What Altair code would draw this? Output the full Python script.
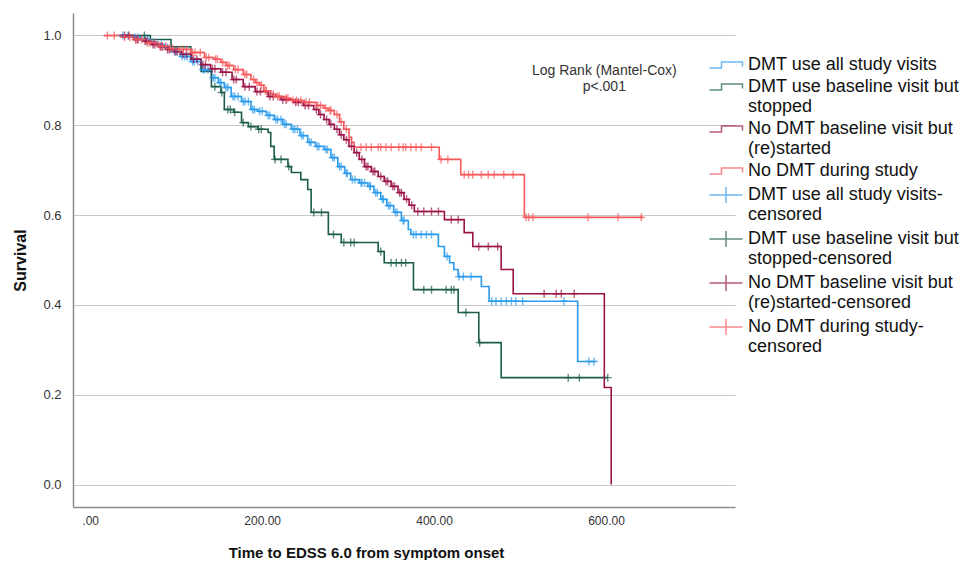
import altair as alt
import pandas as pd

SERIES = ["DMT use all study visits", "DMT use baseline visit but stopped",
          "No DMT baseline visit but (re)started", "No DMT during study"]
COLORS = ["#2b9bed", "#1b5c4c", "#9b1347", "#f8575a"]

LEGEND_KEYS = ["DMT use all study visits",
               "DMT use baseline visit but|stopped",
               "No DMT baseline visit but|(re)started",
               "No DMT during study",
               "DMT use all study visits-|censored",
               "DMT use baseline visit but|stopped-censored",
               "No DMT baseline visit but|(re)started-censored",
               "No DMT during study-|censored"]

X_TICKS = [0, 200, 400, 600]
Y_TICKS = [0.0, 0.2, 0.4, 0.6, 0.8, 1.0]

# ---- Kaplan-Meier step curves (time, survival) ----
blue_t = [33, 48, 59, 70, 79, 87, 94, 105, 117, 129, 141, 149, 156, 164, 176, 187, 195, 205, 214, 224,
          234, 244, 253, 262, 272, 280, 288, 296, 303, 313, 323, 330, 338, 345, 353, 362, 370, 373, 405, 412,
          418, 423, 428, 455, 464, 567, 588]
blue_s = [1.000, 0.996, 0.991, 0.985, 0.980, 0.973, 0.964, 0.953, 0.942, 0.924, 0.906, 0.895, 0.884, 0.864, 0.853, 0.835, 0.831, 0.822, 0.813, 0.802,
          0.791, 0.777, 0.762, 0.753, 0.746, 0.728, 0.708, 0.693, 0.679, 0.672, 0.664, 0.650, 0.635, 0.621, 0.606, 0.588, 0.568, 0.557, 0.530, 0.508,
          0.494, 0.479, 0.463, 0.441, 0.408, 0.274, 0.274]

green_t = [36, 70, 94, 117, 129, 141, 152, 156, 167, 176, 184, 195, 207, 210, 214, 230, 234, 245, 253, 257,
           277, 292, 335, 342, 376, 428, 452, 478, 602]
green_s = [1.000, 0.991, 0.975, 0.947, 0.920, 0.886, 0.873, 0.835, 0.829, 0.806, 0.797, 0.791, 0.784, 0.753, 0.724, 0.708, 0.695, 0.679, 0.657, 0.606,
           0.557, 0.539, 0.519, 0.494, 0.434, 0.383, 0.316, 0.238, 0.238]

maroon_t = [33, 51, 62, 71, 80, 88, 97, 106, 118, 129, 140, 152, 165, 178, 192, 207, 222, 237, 248, 260,
            266, 272, 278, 284, 290, 295, 301, 307, 313, 319, 327, 335, 342, 350, 358, 365, 371, 377, 412, 435,
            445, 478, 492, 598, 606]
maroon_s = [1.000, 0.991, 0.987, 0.980, 0.975, 0.969, 0.964, 0.958, 0.947, 0.935, 0.926, 0.918, 0.902, 0.886, 0.875, 0.864, 0.857, 0.851, 0.844, 0.835,
            0.824, 0.813, 0.802, 0.791, 0.779, 0.768, 0.753, 0.739, 0.724, 0.708, 0.697, 0.686, 0.675, 0.664, 0.650, 0.635, 0.622, 0.608, 0.590, 0.561,
            0.530, 0.479, 0.425, 0.216, 0.000]

red_t = [16, 36, 51, 65, 79, 91, 102, 117, 133, 144, 152, 158, 167, 178, 187, 192, 197, 202, 210, 216,
         226, 234, 249, 263, 272, 277, 284, 290, 295, 301, 304, 307, 406, 431, 505, 643]
red_s = [1.000, 0.996, 0.991, 0.984, 0.976, 0.971, 0.969, 0.962, 0.951, 0.947, 0.940, 0.933, 0.924, 0.913, 0.902, 0.895, 0.889, 0.877, 0.869, 0.864,
         0.860, 0.855, 0.851, 0.844, 0.838, 0.833, 0.824, 0.808, 0.791, 0.773, 0.762, 0.751, 0.724, 0.690, 0.595, 0.595]

# ---- censored observations (time, survival) ----
blue_ct = [38, 44, 52, 56, 64, 67, 74, 83, 90, 98, 101, 110, 113, 121, 125, 133, 137, 145, 152, 160,
           168, 172, 180, 184, 191, 200, 209, 218, 222, 228, 238, 241, 248, 257, 266, 276, 284, 292, 299, 308,
           316, 319, 326, 334, 341, 349, 357, 365, 376, 379, 385, 391, 397, 415, 429, 434, 443, 467, 472, 478,
           484, 490, 495, 503, 551, 580, 586,
           107, 119, 131, 143, 151, 158, 166, 178, 189, 197, 207, 216, 226, 236, 246, 255, 264, 274, 282, 290,
           298, 305, 315, 325, 332, 340, 347, 355, 364]
blue_cs = [1.000, 1.000, 0.996, 0.996, 0.991, 0.991, 0.985, 0.980, 0.973, 0.964, 0.964, 0.953, 0.953, 0.942, 0.942, 0.924, 0.924, 0.906, 0.895, 0.884,
           0.864, 0.864, 0.853, 0.853, 0.835, 0.831, 0.822, 0.813, 0.813, 0.802, 0.791, 0.791, 0.777, 0.762, 0.753, 0.746, 0.728, 0.708, 0.693, 0.679,
           0.672, 0.672, 0.664, 0.650, 0.635, 0.621, 0.606, 0.588, 0.557, 0.557, 0.557, 0.557, 0.557, 0.508, 0.463, 0.463, 0.463, 0.408, 0.408, 0.408,
           0.408, 0.408, 0.408, 0.408, 0.408, 0.274, 0.274,
           0.953, 0.942, 0.924, 0.906, 0.895, 0.884, 0.864, 0.853, 0.835, 0.831, 0.822, 0.813, 0.802, 0.791, 0.777, 0.762, 0.753, 0.746, 0.728, 0.708,
           0.693, 0.679, 0.672, 0.664, 0.650, 0.635, 0.621, 0.606, 0.588]

green_ct = [63, 145, 153, 160, 163, 168, 178, 187, 196, 199, 215, 222, 231, 260, 269, 283, 295, 303, 307, 338,
            350, 356, 362, 367, 388, 397, 414, 420, 423, 437, 453, 556, 569, 602]
green_cs = [1.000, 0.886, 0.873, 0.835, 0.835, 0.829, 0.806, 0.797, 0.791, 0.791, 0.724, 0.724, 0.708, 0.606, 0.606, 0.557, 0.539, 0.539, 0.539, 0.519,
            0.494, 0.494, 0.494, 0.494, 0.434, 0.434, 0.434, 0.434, 0.434, 0.383, 0.316, 0.238, 0.238, 0.238]

maroon_ct = [40, 45, 55, 66, 75, 84, 92, 101, 112, 124, 134, 145, 158, 170, 185, 198, 213, 228, 242, 254,
             263, 275, 287, 298, 304, 310, 316, 323, 331, 338, 346, 354, 362, 368, 374, 381, 388, 397, 405, 420,
             428, 452, 463, 474, 528, 542, 548, 563,
             53, 64, 73, 82, 90, 99, 108, 120, 131, 142, 154, 167, 180, 194, 209, 224, 239, 250, 268, 280,
             292, 321, 329, 344, 352, 360]
maroon_cs = [1.000, 1.000, 0.991, 0.987, 0.980, 0.975, 0.969, 0.964, 0.958, 0.947, 0.935, 0.926, 0.918, 0.902, 0.886, 0.875, 0.864, 0.857, 0.851, 0.844,
             0.835, 0.813, 0.791, 0.768, 0.753, 0.739, 0.724, 0.708, 0.697, 0.686, 0.675, 0.664, 0.650, 0.635, 0.622, 0.608, 0.608, 0.608, 0.608, 0.590,
             0.590, 0.530, 0.530, 0.530, 0.425, 0.425, 0.425, 0.425,
             0.991, 0.987, 0.980, 0.975, 0.969, 0.964, 0.958, 0.947, 0.935, 0.926, 0.918, 0.902, 0.886, 0.875, 0.864, 0.857, 0.851, 0.844, 0.824, 0.802,
             0.779, 0.708, 0.697, 0.675, 0.664, 0.650]

red_ct = [20, 28, 40, 46, 56, 60, 70, 75, 84, 88, 96, 108, 112, 122, 128, 138, 148, 162, 172, 182,
          190, 205, 213, 220, 230, 240, 245, 255, 268, 280, 287, 298, 315, 321, 327, 335, 338, 344, 350, 359,
          364, 367, 373, 379, 385, 397, 408, 416, 435, 440, 445, 455, 463, 470, 481, 492, 507, 510, 515, 579,
          614, 641,
          53, 67, 81, 93, 104, 119, 135, 146, 154, 160, 169, 180, 194, 199, 204, 218, 228, 236, 251, 265,
          274, 279, 292]
red_cs = [1.000, 1.000, 0.996, 0.996, 0.991, 0.991, 0.984, 0.984, 0.976, 0.976, 0.971, 0.969, 0.969, 0.962, 0.962, 0.951, 0.947, 0.933, 0.924, 0.913,
          0.902, 0.877, 0.869, 0.864, 0.860, 0.855, 0.855, 0.851, 0.844, 0.833, 0.824, 0.791, 0.751, 0.751, 0.751, 0.751, 0.751, 0.751, 0.751, 0.751,
          0.751, 0.751, 0.751, 0.751, 0.751, 0.751, 0.724, 0.724, 0.690, 0.690, 0.690, 0.690, 0.690, 0.690, 0.690, 0.690, 0.595, 0.595, 0.595, 0.595,
          0.595, 0.595,
          0.991, 0.984, 0.976, 0.971, 0.969, 0.962, 0.951, 0.947, 0.940, 0.933, 0.924, 0.913, 0.895, 0.889, 0.877, 0.864, 0.860, 0.855, 0.851, 0.844,
          0.838, 0.833, 0.808]

NOTE_T = [598, 598]
NOTE_S = [0.921, 0.886]
NOTE_TXT = ["Log Rank (Mantel-Cox)", "p<.001"]

STEP_ICON = "M-3.3,0.6H-0.9V-0.6H3.3V0.3"
CROSS_ICON = "M-3.3,0H3.3M0,-1.6V1.6"
CROSS_MARK = "M-1,0H1M0,-1V1"

FONT = "Liberation Sans"

steps = [(blue_t, blue_s), (green_t, green_s), (maroon_t, maroon_s), (red_t, red_s)]
cens = [(blue_ct, blue_cs), (green_ct, green_cs), (maroon_ct, maroon_cs), (red_ct, red_cs)]

rows = []
for name, (ts, ss) in zip(SERIES, steps):
    for i, (t, s) in enumerate(zip(ts, ss)):
        rows.append({"series": name, "t": t, "s": s, "i": i})
df_steps = pd.DataFrame(rows)

rows = []
for name, (ts, ss) in zip(SERIES, cens):
    for t, s in zip(ts, ss):
        rows.append({"series": name, "t": t, "s": s})
df_cens = pd.DataFrame(rows)

df_note = pd.DataFrame({"t": NOTE_T, "s": NOTE_S, "txt": NOTE_TXT})
df_leg = pd.DataFrame({"key": LEGEND_KEYS})

x_enc = alt.X("t:Q",
              scale=alt.Scale(domain=[-20, 750], nice=False, zero=False),
              axis=alt.Axis(values=X_TICKS,
                            labelExpr="datum.value == 0 ? '.00' : format(datum.value, '.2f')",
                            title="Time to EDSS 6.0 from symptom onset",
                            grid=False, ticks=False,
                            domainColor="#8c8c8c", domainWidth=1.5,
                            labelFont=FONT, labelFontSize=12, labelColor="#333333",
                            labelPadding=8,
                            titleFont=FONT, titleFontSize=15, titleFontWeight="bold",
                            titleColor="#111111", titlePadding=19, titleX=293))
y_enc = alt.Y("s:Q",
              scale=alt.Scale(domain=[-0.05, 1.05], nice=False, zero=False),
              axis=alt.Axis(values=Y_TICKS, format=".1f", title="Survival",
                            grid=True, gridColor="#c8c8c8", gridWidth=1.2,
                            ticks=False, domainColor="#8c8c8c", domainWidth=1.5,
                            labelFont=FONT, labelFontSize=13, labelColor="#333333",
                            labelPadding=12,
                            titleFont=FONT, titleFontSize=16, titleFontWeight="bold",
                            titleColor="#111111", titlePadding=14))

series_scale = alt.Scale(domain=SERIES, range=COLORS)

lines = alt.Chart(df_steps).mark_line(interpolate="step-after", strokeWidth=1.6).encode(
    x=x_enc, y=y_enc,
    color=alt.Color("series:N", scale=series_scale, legend=None),
    order="i:Q",
)

crosses = alt.Chart(df_cens).mark_point(shape=CROSS_MARK, filled=False, size=64, strokeWidth=1.4).encode(
    x="t:Q", y="s:Q",
    color=alt.Color("series:N", scale=series_scale, legend=None),
)

note = alt.Chart(df_note).mark_text(font=FONT, fontSize=14, color="#333333").encode(
    x="t:Q", y="s:Q", text="txt:N"
)

leg_props = dict(title=None, orient="none", legendX=644, legendY=43,
                 labelExpr="split(datum.label, '|')",
                 labelFont=FONT, labelFontSize=18, labelColor="#111111", labelLimit=400,
                 labelOffset=13, symbolSize=100, symbolStrokeWidth=1.5,
                 rowPadding=4, padding=0)

legend_layer = alt.Chart(df_leg).mark_point(filled=False, clip=True).encode(
    x=alt.value(-300), y=alt.value(-300),
    color=alt.Color("key:N", scale=alt.Scale(domain=LEGEND_KEYS, range=COLORS + COLORS),
                    legend=alt.Legend(**leg_props)),
    shape=alt.Shape("key:N", scale=alt.Scale(domain=LEGEND_KEYS,
                                             range=[STEP_ICON] * 4 + [CROSS_ICON] * 4),
                    legend=alt.Legend(**leg_props)),
)

chart = alt.layer(lines, crosses, note, legend_layer).resolve_scale(
    color="independent", shape="independent"
).properties(
    width=662, height=494,
    padding={"left": 4, "top": 5, "right": 0, "bottom": 0},
).configure_view(stroke=None)

chart.save("out.html", embed_options={"renderer": "svg", "actions": False})
